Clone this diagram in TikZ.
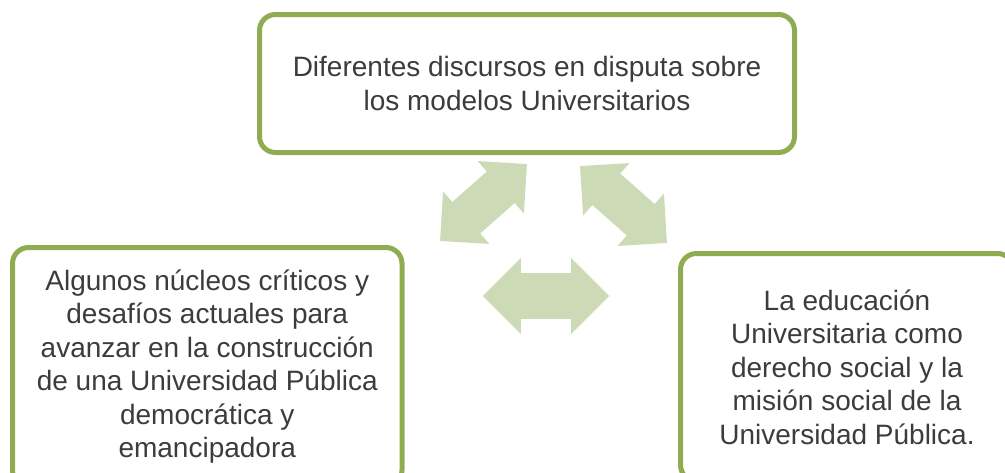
\documentclass[tikz,border=0pt]{standalone}
\usepackage{fontspec}
\setmainfont{Liberation Sans}
\definecolor{boxgreen}{RGB}{143,172,82}
\definecolor{arrowgreen}{RGB}{205,218,182}
\definecolor{textgray}{RGB}{60,60,60}
\begin{document}
\begin{tikzpicture}[x=1pt,y=-1pt,
  box/.style={draw=boxgreen, line width=5pt, rounded corners=16pt, fill=white,
    inner sep=0pt, align=center, text=textgray,
    font=\fontsize{28}{33.5}\selectfont},
  dblarrow/.pic={\fill[arrowgreen] (-58,0) -- (-23,35) -- (-23,21) -- (23,21)
    -- (23,35) -- (58,0) -- (23,-35) -- (23,-21) -- (-23,-21) -- (-23,-35) -- cycle;}
]
\useasboundingbox (0,0) rectangle (1005,472);
\node[box, minimum width=535pt, minimum height=138pt] (top) at (527,83.5)
  {Diferentes discursos en disputa sobre\\los modelos Universitarios};
\node[box, minimum width=389.5pt, minimum height=238.5pt] (left) at (207.25,366.75)
  {Algunos núcleos críticos y\\desafíos actuales para\\avanzar en la construcción\\de una Universidad Pública\\democrática y\\emancipadora};
\node[box, minimum width=333pt, minimum height=227.5pt] (right) at (847,367.25)
  {La educación\\Universitaria como\\derecho social y la\\misión social de la\\Universidad Pública.};
\coordinate (aul) at (483.5,202.5);
\coordinate (aur) at (623.5,204.5);
\coordinate (ah) at (546,296);
\pic[rotate=41.5] at (aul) {dblarrow};
\pic[rotate=-41.5] at (aur) {dblarrow};
\pic[scale=1.09] at (ah) {dblarrow};
\end{tikzpicture}
\end{document}
